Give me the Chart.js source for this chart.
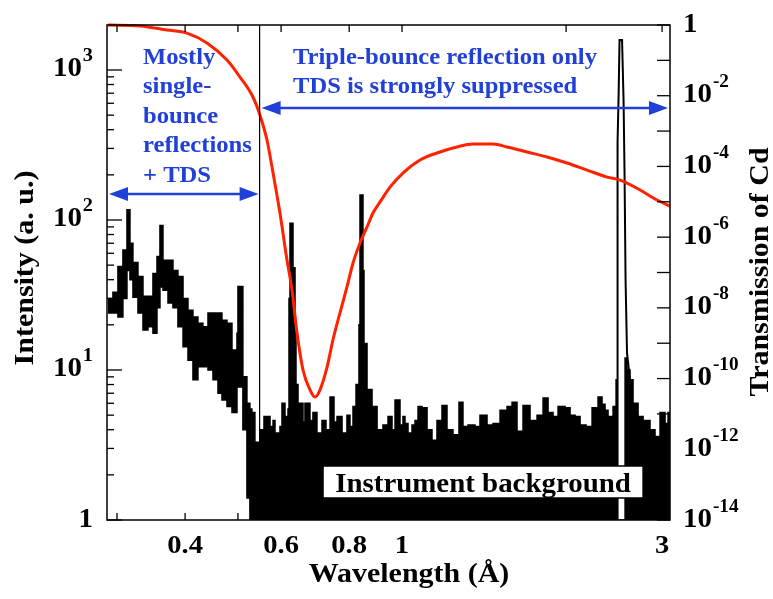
<!DOCTYPE html>
<html><head><meta charset="utf-8">
<script src="https://cdn.jsdelivr.net/npm/chart.js@4.4.1/dist/chart.umd.min.js"></script>
<style>html,body{margin:0;padding:0;background:#fff;}canvas{display:block;}</style>
</head><body>
<canvas id="c" width="773" height="599" style="width:773px;height:599px"></canvas>
<script>
// ---- data ----
// measured intensity: upper edge of the noisy trace (log counts), wavelength in Å
const wavelength = [0.2888,0.2949,0.3012,0.3076,0.3129,0.3169,0.3209,0.3278,0.3348,0.3419,0.3492,0.3552,0.3597,0.3643,0.3721,0.3800,0.3881,0.3965,0.4049,0.4135,0.4223,0.4313,0.4406,0.4500,0.4596,0.4674,0.4774,0.4876,0.4980,0.5001,0.5064,0.5106,0.5194,0.5260,0.5304,0.5372,0.5487,0.5582,0.5653,0.5726,0.5800,0.5848,0.5972,0.6023,0.6100,0.6178,0.6204,0.6230,0.6310,0.6364,0.6390,0.6445,0.6500,0.6582,0.6637,0.6779,0.6865,0.6982,0.7132,0.7254,0.7378,0.7503,0.7599,0.7762,0.7925,0.8027,0.8130,0.8234,0.8338,0.8374,0.8480,0.8517,0.8626,0.8811,0.9000,0.9228,0.9426,0.9587,0.9709,0.9916,1.0042,1.0127,1.0257,1.0431,1.0565,1.0700,1.0882,1.1115,1.1350,1.1592,1.1840,1.2093,1.2403,1.2721,1.2937,1.3214,1.3610,1.3901,1.4321,1.4689,1.5130,1.5585,1.5917,1.6255,1.6672,1.7174,1.7691,1.8146,1.8533,1.8928,1.9332,1.9914,2.0339,2.0773,2.1217,2.1760,2.2318,2.2889,2.3280,2.3578,2.3878,2.4389,2.4701,2.4804,2.5659,2.5868,2.6198,2.6536,2.7108,2.7688,2.8510,2.9119,2.9742,3.0379,3.0766,3.102];
const intensityUpper = [30,33,49,63,117,70,52,42,31,31,44,57,92,54,54,46,42,30,25,22.6,20.5,19.4,24,24,24,21.5,20.5,13.6,17.6,36,36,9,6,5.5,5.2,3.3,4.0,4.9,4.9,4.2,4.6,3.8,4.2,6,4.9,5.5,30,95,48,20,8,6,6,4.5,6,4.6,5.2,3.8,4.6,4.0,6.6,4.5,4.9,3.8,5.0,4.2,5.7,8,20,147,46,15,7.4,5.7,4.0,4.3,4.9,4.0,6.3,4.3,4.9,4.4,3.8,4.3,4.6,5.7,5.6,4.0,3.4,4.6,5.8,4.0,3.7,6.1,4.2,4.3,4.2,5.0,4.3,4.4,5.4,5.7,6.1,3.9,5.8,4.6,5.0,6.5,5.2,4.9,5.7,5.6,5.0,4.9,4.3,4.2,5.6,6.6,5.9,5.4,4.9,5.7,8.6,1,12,10,8.6,6,4.9,4.6,4.0,3.6,5.2,4.4,5.2,5];
// lower edge of the noisy band (short-wavelength part)
const lowerWavelength = [0.2888,0.2949,0.3012,0.3076,0.3129,0.3169,0.3209,0.3278,0.3348,0.3419,0.3492,0.3552,0.3597,0.3643,0.3721,0.3800,0.3881,0.3965,0.4049,0.4135,0.4223,0.4313,0.4406,0.4500,0.4596,0.4674,0.4774,0.4876,0.4980,0.5001,0.5064,0.5106,0.5194,0.5260];
const intensityLower = [24,24,22.6,30,46,40,30.5,24,18.5,19.4,17.6,26,35.8,34,28,26,19.4,14.3,11.6,8.6,10.5,10.5,10,8.6,7,6.3,5.7,5.2,7.7,7.7,7.7,4,1.4,1];
// strong Bragg peak near 2.53 Å (drawn as an outline)
const peakWavelength = [2.4804,2.4856,2.4961,2.5066,2.5333,2.5494,2.5602,2.5711,2.5868,2.6198];
const peakIntensity = [1,330,650,1585,1585,630,200,40,13,8.6];
// Cd transmission (right axis)
const cdWavelength = [0.2888,0.3306,0.3706,0.4031,0.4387,0.4774,0.5043,0.5327,0.5487,0.5653,0.5800,0.5972,0.6151,0.6283,0.6418,0.6582,0.6779,0.6923,0.7073,0.7286,0.7470,0.7695,0.7925,0.8131,0.8374,0.8626,0.8847,0.9114,0.9506,1.004,1.079,1.159,1.261,1.350,1.469,1.558,1.696,1.845,2.008,2.185,2.377,2.512,2.734,2.937,3.102];
const cdTransmission = [1,0.94,0.72,0.59,0.31,0.102,0.0338,0.0092,2.85e-3,5.6e-4,6.5e-5,4.8e-6,2.26e-7,3.2e-8,1.95e-9,1.75e-10,4.8e-11,3.0e-11,4.8e-11,2.1e-10,1.24e-9,7.2e-9,3.9e-8,1.86e-7,6.8e-7,1.94e-6,4.8e-6,9.9e-6,2.6e-5,6.5e-5,1.52e-4,2.4e-4,3.55e-4,4.3e-4,4.3e-4,3.55e-4,2.56e-4,1.85e-4,1.25e-4,7.9e-5,5.0e-5,4.1e-5,2.16e-5,1.12e-5,7.5e-6];
// axes
const xRange = [0.2876, 3.102];
const xTickValues = [0.3,0.4,0.5,0.6,0.8,1,2,3];
const xLabelValues = [0.4,0.6,0.8,1,3];
const xLabelTexts = ['0.4','0.6','0.8','1','3'];
const leftRange = [1, 1995];
const leftLabelValues = [1,10,100,1000];
const leftLabelExps = ['', '1', '2', '3'];
const rightRange = [1e-14, 1];
const rightLabelExps = [0,-2,-4,-6,-8,-10,-12,-14];
// annotations
const cdEdge = 0.548;
const leftNote = ['Mostly','single-','bounce','reflections','+ TDS'];
const rightNote = ['Triple-bounce reflection only','TDS is strongly suppressed'];
const leftNoteAnchor = {x:0.3348, y:1100};
const rightNoteAnchor = {x:0.631, y:1100};
const leftArrowLevel = 149;
const rightArrowLevel = 558;
const boxWavelength = [0.7163, 2.7685];
const boxIntensity = [1.402, 2.291];
const boxText = 'Instrument background';

const BLUE = '#2040d8';
const RED = '#ff2200';
const SERIF = '"Liberation Serif","Times New Roman",serif';

function pts(xs, ys){ return xs.map((v,i)=>({x:v, y:ys[i]})); }

function txt(ctx, s, x, y, size, color, align, sx){
  ctx.save(); ctx.font = 'bold '+size+'px '+SERIF; ctx.fillStyle = color;
  ctx.textAlign = align||'left'; ctx.textBaseline = 'alphabetic';
  ctx.translate(x,y); ctx.scale(sx||1,1); ctx.fillText(s,0,0); ctx.restore();
}
function width(ctx, s, size, sx){ ctx.save(); ctx.font='bold '+size+'px '+SERIF; const w=ctx.measureText(s).width*(sx||1); ctx.restore(); return w; }
function pow(ctx, exp, x, yBase, yExp, alignRight, bs, es){
  const sx=1.07; const wB=width(ctx,'10',bs,sx), wE=width(ctx,exp,es,sx);
  let x0 = alignRight ? x - wE - wB - 1 : x;
  txt(ctx,'10',x0,yBase,bs,'#000','left',sx);
  txt(ctx,exp,x0+wB+1,yExp,es,'#000','left',sx);
}
function arrowHead(ctx, tipX, y, dir){
  const L=19, H=7;
  ctx.beginPath(); ctx.moveTo(tipX,y); ctx.lineTo(tipX+dir*L,y-H); ctx.lineTo(tipX+dir*L,y+H); ctx.closePath(); ctx.fill();
}
function dblArrow(ctx, x1, x2, y){
  ctx.save(); ctx.strokeStyle=BLUE; ctx.fillStyle=BLUE; ctx.lineWidth=2.5;
  ctx.beginPath(); ctx.moveTo(x1+6,y); ctx.lineTo(x2-6,y); ctx.stroke();
  arrowHead(ctx,x1,y,1); arrowHead(ctx,x2,y,-1); ctx.restore();
}

const decor = {
  id:'decor',
  afterDatasetsDraw(chart){
    const {ctx, chartArea:a, scales} = chart; const x=scales.x, y=scales.y;
    ctx.save();
    const xv = x.getPixelForValue(cdEdge);
    ctx.strokeStyle='#000'; ctx.lineWidth=1.2;
    ctx.beginPath(); ctx.moveTo(xv,a.top); ctx.lineTo(xv,a.bottom); ctx.stroke();
    dblArrow(ctx, a.left+2, xv-1, y.getPixelForValue(leftArrowLevel));
    dblArrow(ctx, xv+2, a.right-2, y.getPixelForValue(rightArrowLevel));
    const lx = x.getPixelForValue(leftNoteAnchor.x), ly = y.getPixelForValue(leftNoteAnchor.y);
    leftNote.forEach((s,i)=>txt(ctx,s,lx,ly+i*29.5,23,BLUE,'left',1.07));
    const rx = x.getPixelForValue(rightNoteAnchor.x), ry = y.getPixelForValue(rightNoteAnchor.y);
    rightNote.forEach((s,i)=>txt(ctx,s,rx,ry+i*29,23,BLUE,'left',1.07));
    const bx1=x.getPixelForValue(boxWavelength[0]), bx2=x.getPixelForValue(boxWavelength[1]);
    const by1=y.getPixelForValue(boxIntensity[1]), by2=y.getPixelForValue(boxIntensity[0]);
    ctx.fillStyle='#fff'; ctx.fillRect(bx1,by1,bx2-bx1,by2-by1);
    ctx.strokeStyle='#000'; ctx.lineWidth=1.5; ctx.strokeRect(bx1,by1,bx2-bx1,by2-by1);
    txt(ctx,boxText,(bx1+bx2)/2,by2-6,27,'#000','center',1.07);
    ctx.restore();
  },
  afterDraw(chart){
    const {ctx, chartArea:a, scales} = chart; const x=scales.x, y=scales.y, y1=scales.y1;
    ctx.save();
    ctx.strokeStyle='#000'; ctx.lineWidth=1.5;
    ctx.strokeRect(a.left,a.top,a.right-a.left,a.bottom-a.top);
    ctx.lineWidth=1.3;
    const seg=(x1,y1_,x2,y2)=>{ctx.beginPath();ctx.moveTo(x1,y1_);ctx.lineTo(x2,y2);ctx.stroke();};
    xTickValues.forEach(v=>{const p=x.getPixelForValue(v); seg(p,a.bottom,p,a.bottom-7); seg(p,a.top,p,a.top+7);});
    for(let d=1; d<=1000; d*=10){ for(let m=1;m<=9;m++){ const v=d*m; if(v>leftRange[1]) break; const p=y.getPixelForValue(v); seg(a.left,p,a.left+(m===1?15:7),p);} }
    for(let e=0;e>=-14;e--){ const p=y1.getPixelForValue(Math.pow(10,e)); seg(a.right,p,a.right-13,p); }
    xLabelValues.forEach((v,i)=>txt(ctx,xLabelTexts[i],x.getPixelForValue(v),553,26,'#000','center',1.1));
    leftLabelValues.forEach((v,i)=>{ const p=y.getPixelForValue(v);
      if(!leftLabelExps[i]) txt(ctx,'1',93,p+6.5,27,'#000','right',1.07);
      else pow(ctx,leftLabelExps[i],93,p+6.5,p-9,true,27,19);
    });
    rightLabelExps.forEach(e=>{ const p=y1.getPixelForValue(Math.pow(10,e));
      if(e===0) txt(ctx,'1',683,p+7,27,'#000','left',1.07);
      else pow(ctx,String(e),683,p+6.5,p-8.5,false,27,18);
    });
    txt(ctx,'Wavelength (Å)',409,582,28,'#000','center',1.07);
    ctx.save(); ctx.translate(33,268); ctx.rotate(-Math.PI/2); txt(ctx,'Intensity (a. u.)',0,0,28,'#000','center',1.07); ctx.restore();
    ctx.save(); ctx.translate(768,272); ctx.rotate(-Math.PI/2); txt(ctx,'Transmission of Cd',0,0,28,'#000','center',1.07); ctx.restore();
    ctx.restore();
  }
};

const hiddenAxis = (extra)=>Object.assign({
  type:'logarithmic', grid:{display:false, drawTicks:false}, border:{display:false},
  ticks:{display:false}, title:{display:false}
}, extra);

new Chart(document.getElementById('c'), {
  type:'line',
  data:{ datasets:[
    { label:'Intensity', data:pts(wavelength,intensityUpper), yAxisID:'y', stepped:'before',
      borderColor:'#000', borderWidth:1.5, backgroundColor:'#000', fill:'start', pointRadius:0, order:5 },
    { label:'Intensity lower', data:pts(lowerWavelength,intensityLower), yAxisID:'y', stepped:'before',
      borderColor:'#000', borderWidth:1.5, backgroundColor:'#fff', fill:'start', pointRadius:0, order:4 },
    { label:'Peak', data:pts(peakWavelength,peakIntensity), yAxisID:'y',
      borderColor:'#000', borderWidth:2, fill:false, pointRadius:0, order:3, tension:0 },
    { label:'Cd transmission', data:pts(cdWavelength,cdTransmission), yAxisID:'y1',
      borderColor:RED, borderWidth:3, fill:false, pointRadius:0, order:1, cubicInterpolationMode:'monotone', clip:4 }
  ]},
  options:{
    responsive:false, animation:false, devicePixelRatio:1,
    layout:{padding:{top:25,left:0,right:0,bottom:0}},
    plugins:{legend:{display:false}, tooltip:{enabled:false}},
    scales:{
      x: hiddenAxis({position:'bottom', min:xRange[0], max:xRange[1], afterFit:s=>{s.height=79;}}),
      y: hiddenAxis({position:'left', min:leftRange[0], max:leftRange[1], afterFit:s=>{s.width=107;}}),
      y1: hiddenAxis({position:'right', min:rightRange[0], max:rightRange[1], afterFit:s=>{s.width=103;}})
    }
  },
  plugins:[decor]
});
</script>
</body></html>
